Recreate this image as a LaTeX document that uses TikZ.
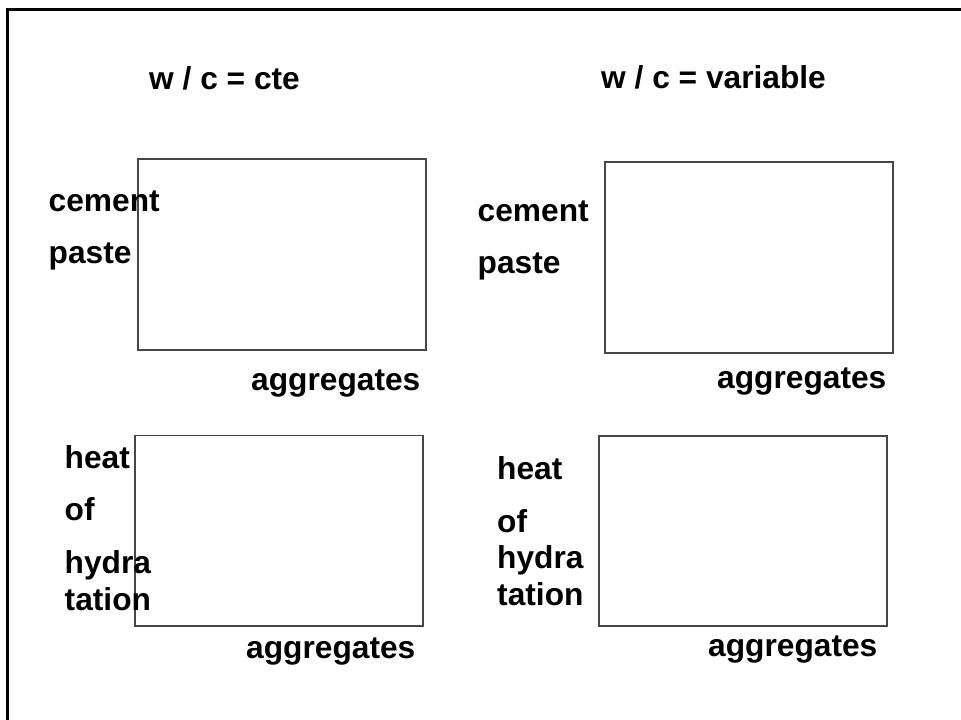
\documentclass[tikz,border=0pt]{standalone}
\usepackage{fontspec}
\setmainfont{Liberation Sans}
\begin{document}
\begin{tikzpicture}[x=1pt, y=-1pt,
  lbl/.style={anchor=base west, inner sep=0pt, font=\bfseries\fontsize{31.7}{38}\selectfont},
  plotbox/.style={draw=black!72, line width=1.3pt},
  frameline/.style={draw=black, line width=3pt}]
\useasboundingbox (0,0) rectangle (961,720);

% slide frame (top and left edges)
\draw[frameline] (7,720) -- (7,9.5) -- (961,9.5);

% empty graph boxes
\draw[plotbox] (138,159) rectangle (426,350);
\draw[plotbox] (605,162) rectangle (893,353);
\draw[plotbox] (135,435.5) rectangle (423,626);
\draw[plotbox] (599,436) rectangle (887,626);

% column headings
\node[lbl] (hdA) at (149,89) {w / c = cte};
\node[lbl] (hdB) at (601,88) {w / c = variable};

% upper row: cement paste vs aggregates
\node[lbl] (cemA) at (48.5,211.5) {cement};
\node[lbl] (pasA) at (48.5,263.5) {paste};
\node[lbl] (aggA) at (251,390) {aggregates};

\node[lbl] (cemB) at (477.5,221) {cement};
\node[lbl] (pasB) at (477.5,273) {paste};
\node[lbl] (aggB) at (717,388) {aggregates};

% lower row: heat of hydration vs aggregates
\node[lbl] (heaA) at (64.5,468) {heat};
\node[lbl] (ofA)  at (64.5,520.5) {of};
\node[lbl] (hydA) at (64.5,573.5) {hydra};
\node[lbl] (tatA) at (64.5,610) {tation};
\node[lbl] (aggC) at (246,658) {aggregates};

\node[lbl] (heaB) at (497,479) {heat};
\node[lbl] (ofB)  at (497,532.5) {of};
\node[lbl] (hydB) at (497,568.5) {hydra};
\node[lbl] (tatB) at (497,605) {tation};
\node[lbl] (aggD) at (708,656) {aggregates};
\end{tikzpicture}
\end{document}
